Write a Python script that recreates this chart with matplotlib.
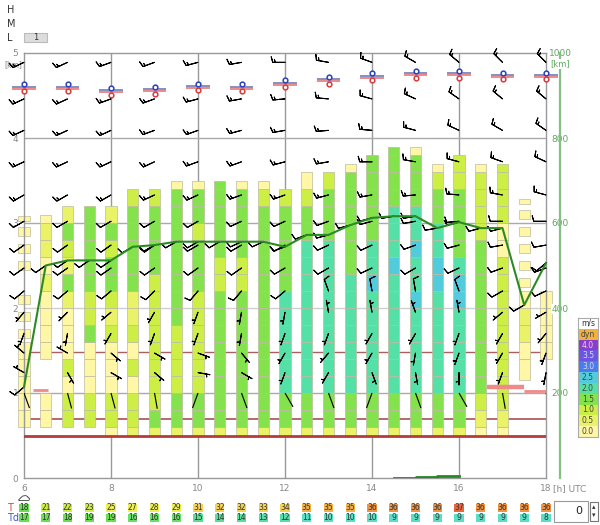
import numpy as np
import matplotlib
matplotlib.use("Agg")
import matplotlib.pyplot as plt
import matplotlib.patheffects as pe
import matplotlib.transforms as mtrans
from matplotlib.patches import Rectangle

######################################
# Data
######################################

# one thermal column every half hour, 6:00 .. 18:00 UTC
Times = np.arange(6, 18.01, 0.5)

# bottom / top of each column [km]
Col_Bottom = [0.6, 0.6, 0.6, 0.6, 0.5, 0.5, 0.5, 0.5, 0.5, 0.5, 0.5, 0.5, 0.5,
              0.5, 0.5, 0.5, 0.5, 0.5, 0.5, 0.5, 0.5, 0.5, 0.5, 1.15, 1.4]
Col_Top = [3.1, 3.1, 3.2, 3.2, 3.2, 3.4, 3.4, 3.5, 3.5, 3.5, 3.5, 3.5, 3.4,
           3.6, 3.6, 3.7, 3.8, 3.9, 3.9, 3.7, 3.8, 3.7, 3.7, 3.3, 2.2]

# updraft class of each cell, bottom -> top
# 0..5 = 0.0 .. 2.5 m/s, 'a' = small detached box, ' ' = no cell
Col_Cells = [
    "00000aaa aaaa",
    "00  000010110",
    "2202000131231",
    "2200032233333",
    "02200021233231",
    "122020211333332",
    "132222222233332",
    "1332222333333330",
    "1332222223332330",
    "1333333332233333",
    "1333333332233330",
    "1333333333333320",
    "133444444333332",
    "1334444444443320",
    "1334444444443332",
    "13344444443333330",
    "13344444454433333",
    "133444444454443333",
    "133444445445443330",
    "13344444455443320",
    "13344444554333322",
    "01233333333322220",
    "01222222222002222",
    "00110aaaaaa",
    "0000",
]

# boundary layer top (right axis)
BL_Top = [214, 500, 512, 512, 512, 544, 548, 556, 556, 556, 556, 556, 544,
          572, 572, 595, 612, 616, 616, 588, 602, 588, 588, 407, 506]
BL_Dir = [230, 235, 235, 235, 235, 240, 240, 240, 240, 240, 245, 245, 250,
          250, 255, 255, 255, 260, 260, 260, 255, 255, 255, 240, 230]
BL_Speed = 10

# small second series at the bottom (right axis)
Rain_Times = [14.5, 15.0, 15.5, 16.0]
Rain_Values = [0, 1, 3, 5]

# red level lines [km]
Red_Levels = [0.49, 0.7, 1.48]

# cloud base bars
CB_Start = [6.2, 16.65, 17.5]
CB_End = [6.55, 17.5, 18.0]
CB_Height = [1.03, 1.07, 1.02]

# freezing level markers, every hour
FL_Hours = np.arange(6, 19)
FL_Height = [4.59, 4.59, 4.55, 4.56, 4.6, 4.59, 4.64, 4.68, 4.72, 4.75, 4.75, 4.73, 4.73]

# wind barbs, every hour
Wind_Hours = np.arange(6, 19)
Wind_Levels = [1.0, 1.24, 1.47, 1.7, 1.95, 2.2, 2.47, 2.74, 3.02, 3.33, 3.72, 4.09, 4.46, 4.89]
Wind_Speed = [3, 5, 5, 5, 5, 10, 10, 10, 10, 15, 15, 15, 15, 15]
Wind_Dir = [
    [160, 165, 165, 170, 200, 160, 150, 160, 200, 160, 150, 170, 160],
    [300, 150, 120, 130, 100, 120, 200, 210, 160, 170, 180, 200, 190],
    [310, 300, 130, 120, 110, 140, 210, 220, 210, 190, 200, 210, 200],
    [200, 190, 210, 200, 200, 190, 200, 200, 210, 210, 200, 210, 220],
    [220, 225, 230, 210, 200, 190, 190, 350, 350, 340, 350, 230, 240],
    [230, 230, 230, 225, 220, 220, 230, 340, 350, 350, 340, 240, 245],
    [235, 235, 235, 235, 235, 235, 240, 240, 245, 240, 245, 250, 250],
    [235, 235, 235, 235, 240, 240, 240, 245, 245, 250, 255, 260, 260],
    [240, 240, 240, 240, 240, 245, 245, 250, 255, 260, 265, 270, 270],
    [240, 240, 240, 245, 245, 250, 250, 255, 260, 265, 275, 280, 285],
    [245, 245, 245, 245, 250, 250, 255, 260, 270, 280, 285, 290, 295],
    [245, 245, 245, 250, 250, 255, 260, 265, 275, 285, 295, 300, 305],
    [245, 245, 250, 250, 255, 260, 265, 275, 285, 295, 305, 310, 310],
    [245, 245, 250, 250, 255, 260, 270, 280, 290, 300, 310, 315, 315],
]

# surface temperature / dew point
T_Values = [18, 21, 22, 23, 25, 27, 28, 29, 31, 32, 32, 33, 34,
            35, 35, 35, 36, 36, 36, 36, 37, 36, 36, 36, 36]
Td_Values = [17, 17, 18, 19, 19, 16, 16, 16, 15, 14, 14, 13, 12,
             11, 10, 10, 10, 9, 9, 9, 9, 9, 9, 9, 8]

# legend
Legend_Labels = ["0.0", "0.5", "1.0", "1.5", "2.0", "2.5", "3.0", "3.5", "4.0", "dyn"]
Legend_Colors = ["#FFF6A6", "#EAF268", "#CDEE44", "#84E24C", "#55E0A8", "#52CCDC",
                 "#4A7CF0", "#6A56E2", "#8C3CCC", "#F2B23A"]

Cell_Colors = Legend_Colors[:6]
Grid_Levels = np.round(0.6 + 0.2 * np.arange(23), 2)


def t_color(t):
    if t < 20: return "#6ADD52"
    if t < 25: return "#CDEE48"
    if t < 31: return "#EEEE55"
    if t < 35: return "#F5D254"
    if t < 36: return "#F2B048"
    if t < 37: return "#EE9442"
    return "#E8663A"


def td_color(t):
    if t >= 17: return "#6ADD52"
    if t >= 16: return "#6ADD6A"
    if t >= 14: return "#5ADD96"
    if t >= 12: return "#58DDAA"
    return "#5CDDC6"


######################################
# Figure
######################################
fig = plt.figure(figsize=(6, 5.25), dpi=100)
ax = fig.add_axes([24 / 600, 47 / 525, 522 / 600, 425 / 525])
ax.set_xlim(6, 18)
ax.set_ylim(0, 5)

gray = "#999999"
for s in ax.spines.values():
    s.set_color(gray)
    s.set_linewidth(1)

# grid
for h in [8, 10, 12, 14, 16]:
    ax.axvline(h, color=gray, lw=1, zorder=0.5)
for k in [1, 2, 3, 4]:
    ax.axhline(k, color="#aaaaaa" if k != 2 else "#d0d0d0", lw=1, zorder=0.5)

# red level lines
ax.axhline(Red_Levels[0], color="#b83a3a", lw=2, zorder=3)
ax.axhline(Red_Levels[1], color="#a85050", lw=1.2, zorder=1)
ax.axhline(Red_Levels[2], color="#a86060", lw=1, zorder=1)

# thermal columns
w = 0.26
for t, b, top, cells in zip(Times, Col_Bottom, Col_Top, Col_Cells):
    edges = [b] + [g for g in Grid_Levels if b + 0.06 < g < top - 0.06] + [top]
    for i in range(len(edges) - 1):
        ch = cells[i] if i < len(cells) else cells[-1]
        if ch == " ":
            continue
        lo, hi = edges[i], edges[i + 1]
        if ch.isalpha():
            k = ord(ch) - ord("a")
            h = (hi - lo) * 0.55
            lo = lo + (hi - lo - h) / 2
        else:
            k = int(ch)
            h = hi - lo
        ax.bar(t, h, bottom=lo, width=w, color=Cell_Colors[k], edgecolor="#bcbca0",
               linewidth=0.5, zorder=2, clip_on=False)

# cloud base bars
ax.hlines(CB_Height, CB_Start, CB_End, colors="#f08a8a", lw=[2, 3.2, 2], zorder=4)

# freezing level markers
for x, y in zip(FL_Hours, FL_Height):
    ax.hlines(y + 0.012, x - 0.27, x + 0.27, colors="#7d86b8", lw=1.3, zorder=5, clip_on=False)
    ax.hlines(y - 0.012, x - 0.27, x + 0.27, colors="#ec8080", lw=1.3, zorder=5, clip_on=False)
    ax.plot(x, y + 0.04, "o", ms=3.4, mfc="white", mec="#2a3fc0", mew=1.1, zorder=6, clip_on=False)
    ax.plot(x, y - 0.04, "o", ms=3.4, mfc="white", mec="#d83a3a", mew=1.1, zorder=6, clip_on=False)

# wind barbs on the hour grid
H, L = np.meshgrid(Wind_Hours, Wind_Levels)
D = np.radians(np.array(Wind_Dir, dtype=float))
S = np.array(Wind_Speed, dtype=float)[:, None] * np.ones_like(D)
U = -S * np.sin(D)
V = -S * np.cos(D)
strong = S >= 5
barb_kw = dict(length=4.2, lw=0.75, color="black", zorder=7, clip_on=False,
               sizes=dict(spacing=0.2, height=0.45))
ax.barbs(H[strong], L[strong], U[strong], V[strong], **barb_kw)
# light winds: staff only
ax.quiver(H[~strong], L[~strong], np.sin(D[~strong]), np.cos(D[~strong]),
          angles="uv", scale_units="inches", scale=1 / 0.16, pivot="tail",
          width=0.0022, headwidth=0, headlength=0, headaxislength=0,
          color="black", zorder=7)

# winds along boundary layer top
bd = np.radians(BL_Dir)
ax.barbs(Times, np.array(BL_Top) / 200, -BL_Speed * np.sin(bd), -BL_Speed * np.cos(bd),
         **barb_kw)

# axis ticks
tc = "#888888"
ax.set_xticks([6, 8, 10, 12, 14, 16, 18])
ax.set_xticklabels(["6", "8", "10", "12", "14", "16", "18"])
ax.set_yticks([0, 1, 2, 3, 4, 5])
ax.tick_params(length=0, labelsize=6.5, labelcolor=tc, pad=4)
ax.annotate("[km]", xy=(6, 5), xytext=(-8, -8.5), textcoords="offset points",
            ha="center", va="center", fontsize=5.5, color=tc, annotation_clip=False)
ax.annotate("[h] UTC", xy=(18, 0), xytext=(5, -7.5), textcoords="offset points",
            ha="left", va="center", fontsize=6.5, color=tc, annotation_clip=False)

# right axis
sx = (560 - 24) / 522
ax2 = ax.twinx()
ax2.set_ylim(0, 1000)
for k in ["left", "top", "bottom"]:
    ax2.spines[k].set_visible(False)
ax2.spines["right"].set_position(("axes", sx))
ax2.spines["right"].set_color("#86bf86")
ax2.spines["right"].set_linewidth(1.6)
ax2.set_yticks([200, 400, 600, 800, 1000])
ax2.tick_params(length=0, pad=0, labelsize=6.5, labelcolor="#5ea85e")
for lbl in ax2.get_yticklabels():
    lbl.set_horizontalalignment("center")
    lbl.set_bbox(dict(facecolor="white", edgecolor="none", pad=0.6))
blend = mtrans.blended_transform_factory(ax2.transAxes, ax2.transData)
ax2.annotate("[km]", xy=(sx, 1000), xycoords=blend, xytext=(0, -8),
             textcoords="offset points", ha="center", va="center", fontsize=6,
             color="#5ea85e", bbox=dict(facecolor="white", edgecolor="none", pad=0.3))

ax2.plot(Times, BL_Top, color="#2c8a24", lw=1.5, zorder=5, clip_on=False)
ax2.plot(Rain_Times, Rain_Values, color="#1f8a1f", lw=2, drawstyle="steps-pre", zorder=5)

# legend
axl = fig.add_axes([578 / 600, (525 - 437) / 525, 20 / 600, 119 / 525])
axl.set_xlim(0, 1)
axl.set_ylim(0, len(Legend_Labels) + 1)
axl.barh(np.arange(len(Legend_Labels)) + 0.5, 1, height=1, color=Legend_Colors,
         edgecolor="none")
for i, lab in enumerate(Legend_Labels):
    dark = lab in ["3.0", "3.5", "4.0"]
    axl.text(0.5, i + 0.5, lab, ha="center", va="center", fontsize=5.5,
             color="#dddddd" if dark else "#444444")
axl.text(0.5, len(Legend_Labels) + 0.5, "m/s", ha="center", va="center",
         fontsize=5.5, color="#333333")
axl.set_xticks([])
axl.set_yticks([])
for s in axl.spines.values():
    s.set_color("#aaaaaa")
    s.set_linewidth(0.8)

# T / Td rows
axt = fig.add_axes([24 / 600, 1 / 525, 522 / 600, 22 / 525])
axt.set_xlim(6, 18)
axt.set_ylim(0, 22)
axt.axis("off")
axt.bar(Times, 8, bottom=12, width=0.21, color=[t_color(v) for v in T_Values],
        edgecolor="none", clip_on=False)
axt.bar(Times, 8, bottom=2, width=0.21, color=[td_color(v) for v in Td_Values],
        edgecolor="none", clip_on=False)
for t, a, b in zip(Times, T_Values, Td_Values):
    axt.text(t, 16, str(a), ha="center", va="center", fontsize=5.5, color="#333333")
    axt.text(t, 6, str(b), ha="center", va="center", fontsize=5.5, color="#333333")
axt.text(5.6, 16, "T", ha="left", va="center", fontsize=7, color="#d04a3a", clip_on=False)
axt.text(5.6, 6, "Td", ha="left", va="center", fontsize=7, color="#3c5ccf", clip_on=False)

# cloud icon above the rows
fig.text(24 / 600, 1 - 497 / 525, "\u2601", ha="center", va="center", fontsize=8,
         color="white", path_effects=[pe.withStroke(linewidth=1.2, foreground="#444444")])

# H / M / L labels and button
for lab, yy in [("H", 10), ("M", 24), ("L", 38)]:
    fig.text(7 / 600, 1 - yy / 525, lab, ha="left", va="center", fontsize=7, color="#333333")
fig.add_artist(Rectangle((24 / 600, 1 - 42 / 525), 23 / 600, 9 / 525,
                         transform=fig.transFigure, facecolor="#dddddd",
                         edgecolor="#bbbbbb", lw=0.8))
fig.text(35.5 / 600, 1 - 37.5 / 525, "1", ha="center", va="center", fontsize=6, color="#333333")

# numeric input box
fig.add_artist(Rectangle((554 / 600, 1 - 522 / 525), 34 / 600, 21 / 525,
                         transform=fig.transFigure, facecolor="white",
                         edgecolor="#999999", lw=0.8))
fig.text(582 / 600, 1 - 511 / 525, "0", ha="right", va="center", fontsize=8, color="#222222")
fig.add_artist(Rectangle((590 / 600, 1 - 521 / 525), 8 / 600, 19 / 525,
                         transform=fig.transFigure, facecolor="white",
                         edgecolor="#777777", lw=0.8))
fig.text(594 / 600, 1 - 507 / 525, "\u25b4", ha="center", va="center", fontsize=5, color="#333333")
fig.text(594 / 600, 1 - 515 / 525, "\u25be", ha="center", va="center", fontsize=5, color="#333333")

fig.savefig("out.png", dpi=100)
